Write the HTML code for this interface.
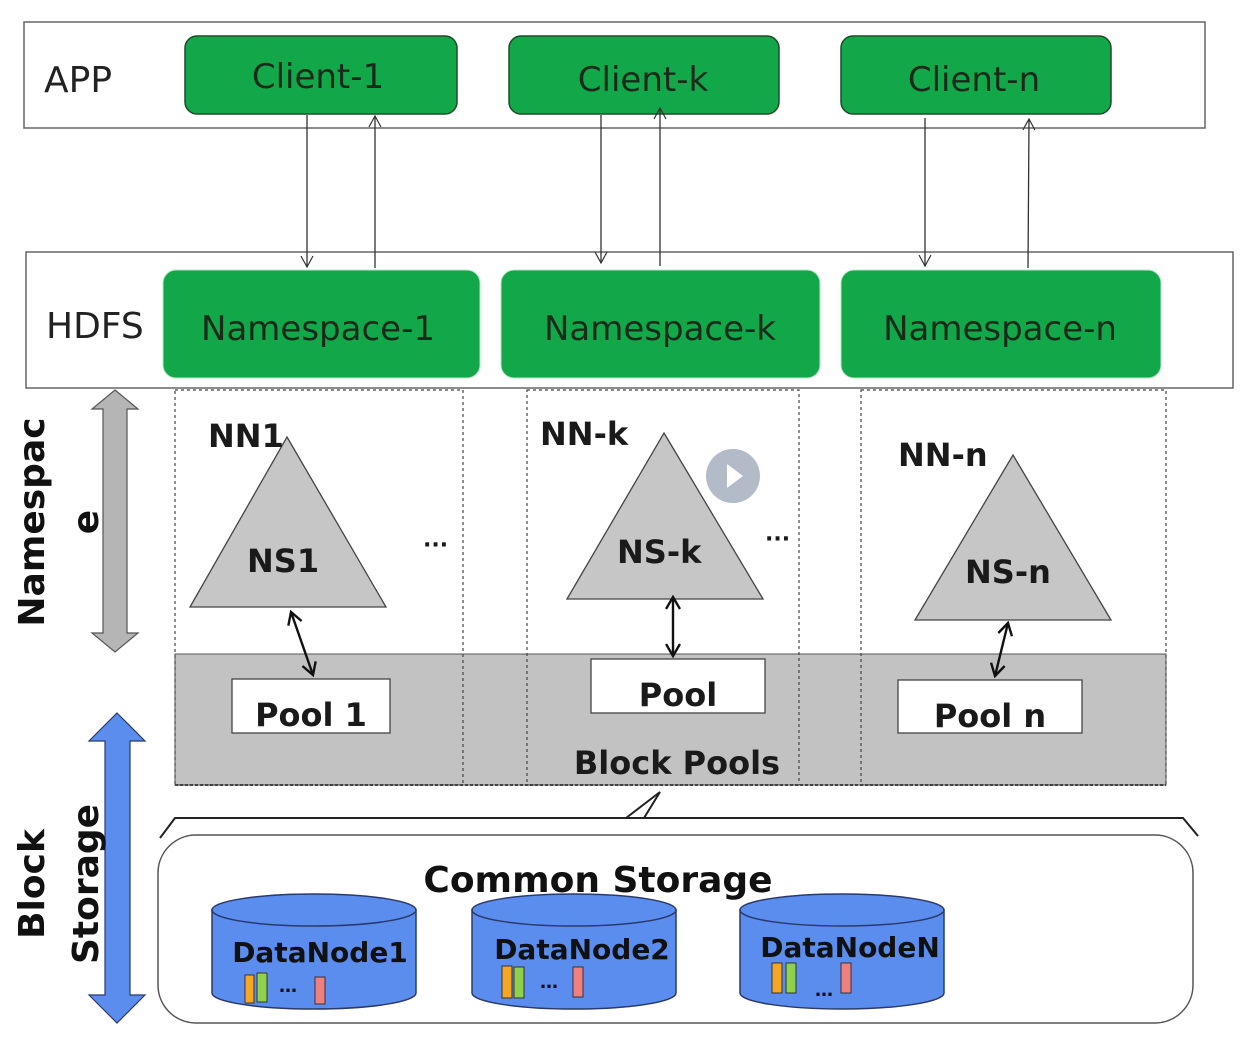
<!DOCTYPE html>
<html><head><meta charset="utf-8"><style>
html,body{margin:0;padding:0;background:#fff;}
svg{display:block;font-family:"DejaVu Sans","Liberation Sans",sans-serif;}
</style></head><body>
<svg width="1260" height="1043" viewBox="0 0 1260 1043" xmlns="http://www.w3.org/2000/svg">
<defs>
<marker id="oa" markerWidth="14" markerHeight="14" refX="12" refY="7" orient="auto-start-reverse" markerUnits="userSpaceOnUse"><path d="M1,1 L12,7 L1,13" fill="none" stroke="#333" stroke-width="1.2"/></marker>
<marker id="da" markerWidth="16" markerHeight="16" refX="14" refY="8" orient="auto-start-reverse" markerUnits="userSpaceOnUse"><path d="M2,1 L14,8 L2,15" fill="none" stroke="#111" stroke-width="2.4"/></marker>
</defs>
<rect width="1260" height="1043" fill="#fff"/>
<rect x="24" y="22" width="1181" height="106" fill="#fff" stroke="#666" stroke-width="1.5"/>
<text x="44" y="92" font-size="36" fill="#222">APP</text>
<g fill="#12a84a" stroke="#1d4d2a" stroke-width="1.5">
<rect x="185" y="36" width="272" height="78" rx="12"/>
<rect x="509" y="36" width="270" height="78" rx="12"/>
<rect x="841" y="36" width="270" height="78" rx="12"/>
</g>
<g font-size="34" fill="#1a2a1a" text-anchor="middle">
<text x="318" y="88">Client-1</text>
<text x="643" y="91">Client-k</text>
<text x="974" y="91">Client-n</text>
</g>
<rect x="26" y="252" width="1207" height="136" fill="#fff" stroke="#666" stroke-width="1.5"/>
<text x="46" y="338" font-size="36" fill="#222">HDFS</text>
<g fill="#12a84a" stroke="#b5e8c8" stroke-width="1">
<rect x="163" y="270" width="317" height="108" rx="13"/>
<rect x="501" y="270" width="319" height="108" rx="13"/>
<rect x="841" y="270" width="320" height="108" rx="13"/>
</g>
<g font-size="34" fill="#1a2a1a" text-anchor="middle">
<text x="318" y="340">Namespace-1</text>
<text x="660" y="340">Namespace-k</text>
<text x="1000" y="340">Namespace-n</text>
</g>
<g stroke="#333" stroke-width="1.3" fill="none">
<line x1="307" y1="115" x2="307" y2="267" marker-end="url(#oa)"/>
<line x1="375" y1="268" x2="375" y2="116" marker-end="url(#oa)"/>
<line x1="601" y1="115" x2="601" y2="263" marker-end="url(#oa)"/>
<line x1="660" y1="266" x2="660" y2="108" marker-end="url(#oa)"/>
<line x1="925" y1="118" x2="925" y2="266" marker-end="url(#oa)"/>
<line x1="1028" y1="268" x2="1029" y2="119" marker-end="url(#oa)"/>
</g>
<rect x="175" y="654" width="991" height="131" fill="#c2c2c2" stroke="#555" stroke-width="1"/>
<line x1="175" y1="785" x2="1166" y2="785" stroke="#444" stroke-width="2" stroke-dasharray="3,2"/>
<g fill="none" stroke="#444" stroke-width="1.2" stroke-dasharray="3,3">
<rect x="175" y="390" width="288" height="395"/>
<rect x="527" y="390" width="272" height="395"/>
<rect x="861" y="390" width="305" height="395"/>
</g>
<g fill="#c6c6c6" stroke="#444" stroke-width="1.3">
<polygon points="287,437 386,607 190,607"/>
<polygon points="664,433 763,599 567,599"/>
<polygon points="1013,455 1111,620 915,620"/>
</g>
<g font-size="32" font-weight="bold" fill="#1a1a1a">
<text x="208" y="447">NN1</text>
<text x="540" y="445">NN-k</text>
<text x="898" y="466">NN-n</text>
<text x="247" y="572">NS1</text>
<text x="617" y="563">NS-k</text>
<text x="965" y="583">NS-n</text>
<text x="423" y="552" font-size="22">···</text>
<text x="765" y="546" font-size="22">···</text>
</g>
<g fill="#fff" stroke="#444" stroke-width="1.3">
<rect x="232" y="679" width="158" height="54"/>
<rect x="591" y="659" width="174" height="54"/>
<rect x="898" y="680" width="184" height="53"/>
</g>
<g font-size="32" font-weight="bold" fill="#1a1a1a" text-anchor="middle">
<text x="311" y="726">Pool 1</text>
<text x="678" y="706">Pool</text>
<text x="990" y="727">Pool n</text>
<text x="677" y="774">Block Pools</text>
</g>
<g stroke="#111" stroke-width="2.4" fill="none">
<line x1="291" y1="612" x2="313" y2="675" marker-start="url(#da)" marker-end="url(#da)"/>
<line x1="673" y1="597" x2="673" y2="656" marker-start="url(#da)" marker-end="url(#da)"/>
<line x1="1008" y1="623" x2="995" y2="676" marker-start="url(#da)" marker-end="url(#da)"/>
</g>
<circle cx="733" cy="476" r="27" fill="#b3bac8"/>
<polygon points="727,464 727,488 743,476" fill="#fff"/>
<polygon points="115,390 138,409 127,409 127,633 138,633 115,652 92,633 103,633 103,409 92,409" fill="#b5b5b5" stroke="#555" stroke-width="1.2"/>
<polygon points="117,713 145,741 130,741 130,995 145,995 117,1023 89,995 105,995 105,741 89,741" fill="#5b8def" stroke="#2a3a6a" stroke-width="1.2"/>
<g font-size="36" font-weight="bold" fill="#111">
<text transform="translate(44,522) rotate(-90)" text-anchor="middle">Namespac</text>
<text transform="translate(98,522) rotate(-90)" text-anchor="middle">e</text>
<text transform="translate(44,884) rotate(-90)" text-anchor="middle">Block</text>
<text transform="translate(98,884) rotate(-90)" text-anchor="middle">Storage</text>
</g>
<g stroke="#222" stroke-width="2" fill="none">
<path d="M160,838 L175,818 L1183,818 L1198,836"/>
<path d="M626,818 L660,792 L644,818"/>
</g>
<rect x="158" y="835" width="1035" height="188" rx="38" fill="#fff" stroke="#555" stroke-width="1.5"/>
<text x="598" y="892" font-size="36" font-weight="bold" fill="#111" text-anchor="middle">Common Storage</text>
<g stroke="#2a3a6a" stroke-width="1.5">
<path d="M212,910 L212,993 A102,16 0 0 0 416,993 L416,910 Z" fill="#5b8def"/>
<ellipse cx="314" cy="910" rx="102" ry="16" fill="#5b8def"/>
<path d="M472,910 L472,993 A102,16 0 0 0 676,993 L676,910 Z" fill="#5b8def"/>
<ellipse cx="574" cy="910" rx="102" ry="16" fill="#5b8def"/>
<path d="M740,910 L740,993 A102,16 0 0 0 944,993 L944,910 Z" fill="#5b8def"/>
<ellipse cx="842" cy="910" rx="102" ry="16" fill="#5b8def"/>
</g>
<g font-size="28" font-weight="bold" fill="#111" text-anchor="middle">
<text x="320" y="962">DataNode1</text>
<text x="582" y="959">DataNode2</text>
<text x="850" y="957">DataNodeN</text>
</g>
<g stroke="#333" stroke-width="1">
<rect x="245" y="975" width="9" height="28" fill="#f5a623"/>
<rect x="257" y="973" width="10" height="29" fill="#8ed14a"/>
<rect x="315" y="977" width="10" height="27" fill="#f08080"/>
<rect x="502" y="966" width="10" height="32" fill="#f5a623"/>
<rect x="514" y="967" width="10" height="31" fill="#8ed14a"/>
<rect x="573" y="967" width="10" height="30" fill="#f08080"/>
<rect x="772" y="963" width="10" height="30" fill="#f5a623"/>
<rect x="786" y="963" width="10" height="30" fill="#8ed14a"/>
<rect x="841" y="963" width="10" height="30" fill="#f08080"/>
</g>
<g font-size="18" font-weight="bold" fill="#111">
<text x="279" y="992">…</text>
<text x="540" y="988">…</text>
<text x="815" y="996">…</text>
</g>
</svg>
</body></html>
